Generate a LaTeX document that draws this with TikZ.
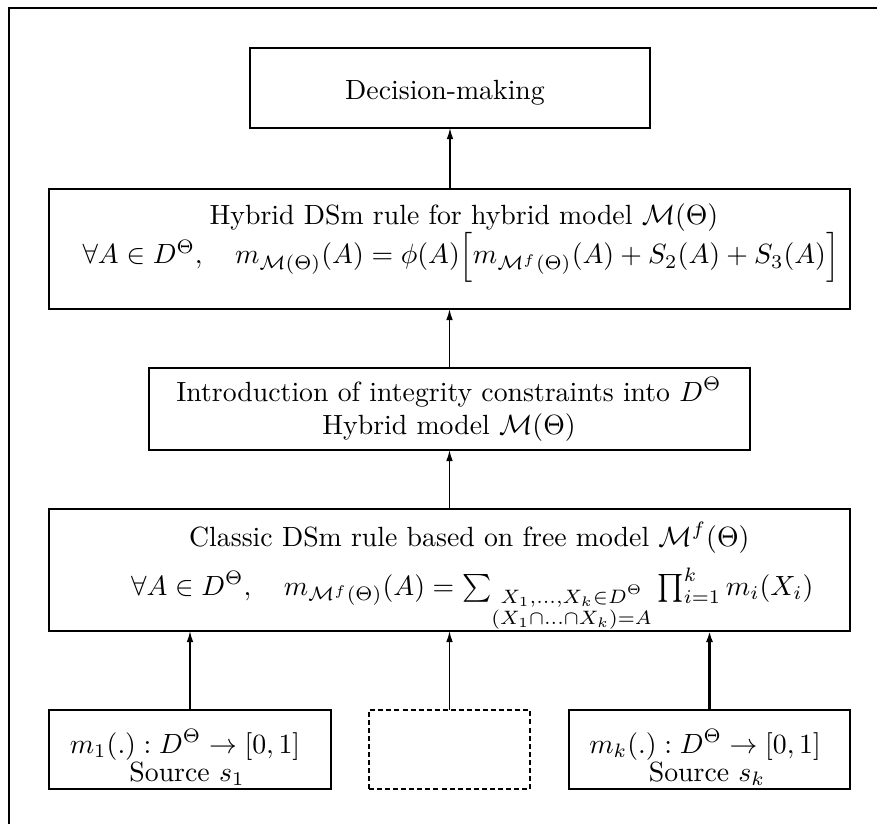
\documentclass[tikz,border=0pt]{standalone}
\usepackage{amsmath}
\usetikzlibrary{arrows.meta}
\newcommand{\pxu}{0.36pt}
\begin{document}
\begin{tikzpicture}[x=0.36pt,y=-0.36pt,
  box/.style={draw,line width=0.8pt,inner sep=0pt,outer sep=0pt},
  dbox/.style={draw,line width=0.8pt,inner sep=0pt,outer sep=0pt,dash pattern=on 1.8pt off 1.1pt},
  txt/.style={anchor=base,inner sep=0pt},
  txtw/.style={anchor=base west,inner sep=0pt},
  txte/.style={anchor=base east,inner sep=0pt},
  arr/.style={line width=0.5pt,-{Latex[length=4pt,width=2.4pt]}},
  arrk/.style={line width=0.85pt,-{Latex[length=4pt,width=2.6pt]}}]
\useasboundingbox (0,0) rectangle (877,824);
\draw[line width=0.65pt] (900,8) -- (9,8) -- (9,850);
% boxes
\node[box,minimum width={400*\pxu},minimum height={80*\pxu}] (dec) at (450,88) {};
\node[box,minimum width={801*\pxu},minimum height={120*\pxu}] (hyb) at (449.5,249) {};
\node[box,minimum width={601*\pxu},minimum height={82*\pxu}] (itg) at (449.5,409) {};
\node[box,minimum width={801*\pxu},minimum height={122*\pxu}] (cls) at (449.5,570) {};
\node[box,minimum width={282*\pxu},minimum height={79*\pxu}] (s1) at (190,749.5) {};
\node[dbox,minimum width={161*\pxu},minimum height={79*\pxu}] (sd) at (449.5,749.5) {};
\node[box,minimum width={281*\pxu},minimum height={79*\pxu}] (sk) at (709.5,749.5) {};
% texts
\node[txt] (tdec) at (445,100) {Decision-making};
\node[txt] (th1) at (464,225) {Hybrid DSm rule for hybrid model $\mathcal{M}(\Theta)$};
\node[txtw] (th2) at (82,264) {$\forall A\in D^{\Theta},\quad m_{\mathcal{M}(\Theta)}(A)=\phi(A)\Big[m_{\mathcal{M}^f(\Theta)}(A)+S_2(A)+S_3(A)\Big]$};
\node[txt] (ti1) at (449,401) {Introduction of integrity constraints into $D^{\Theta}$};
\node[txt] (ti2) at (449,434) {Hybrid model $\mathcal{M}(\Theta)$};
\node[txte] (tc1) at (750,546) {Classic DSm rule based on free model $\mathcal{M}^f(\Theta)$};
\node[txte] (tc2) at (814,595) {$\forall A\in D^{\Theta},\quad m_{\mathcal{M}^f(\Theta)}(A)=\sum_{\substack{X_1,\ldots,X_k\in D^{\Theta}\\(X_1\cap\ldots\cap X_k)=A}}\prod_{i=1}^k m_i(X_i)$};
\node[txt] (ts11) at (185,753) {$m_1(.) : D^{\Theta}\rightarrow[0,1]$};
\node[txt] (ts12) at (187,781) {Source $s_1$};
\node[txt] (tsk1) at (705,753) {$m_k(.) : D^{\Theta}\rightarrow[0,1]$};
\node[txt] (tsk2) at (707,781) {Source $s_k$};
% connectors
\draw[arr] (hyb.north -| dec.south) -- (dec.south);
\draw[arr] (itg.north) -- (hyb.south -| itg.north);
\draw[arr] (cls.north -| itg.south) -- (itg.south);
\draw[arr] (s1.north) -- (s1.north |- cls.south);
\draw[arr] (sd.north) -- (sd.north |- cls.south);
\draw[arrk] (sk.north) -- (sk.north |- cls.south);
\end{tikzpicture}
\end{document}
